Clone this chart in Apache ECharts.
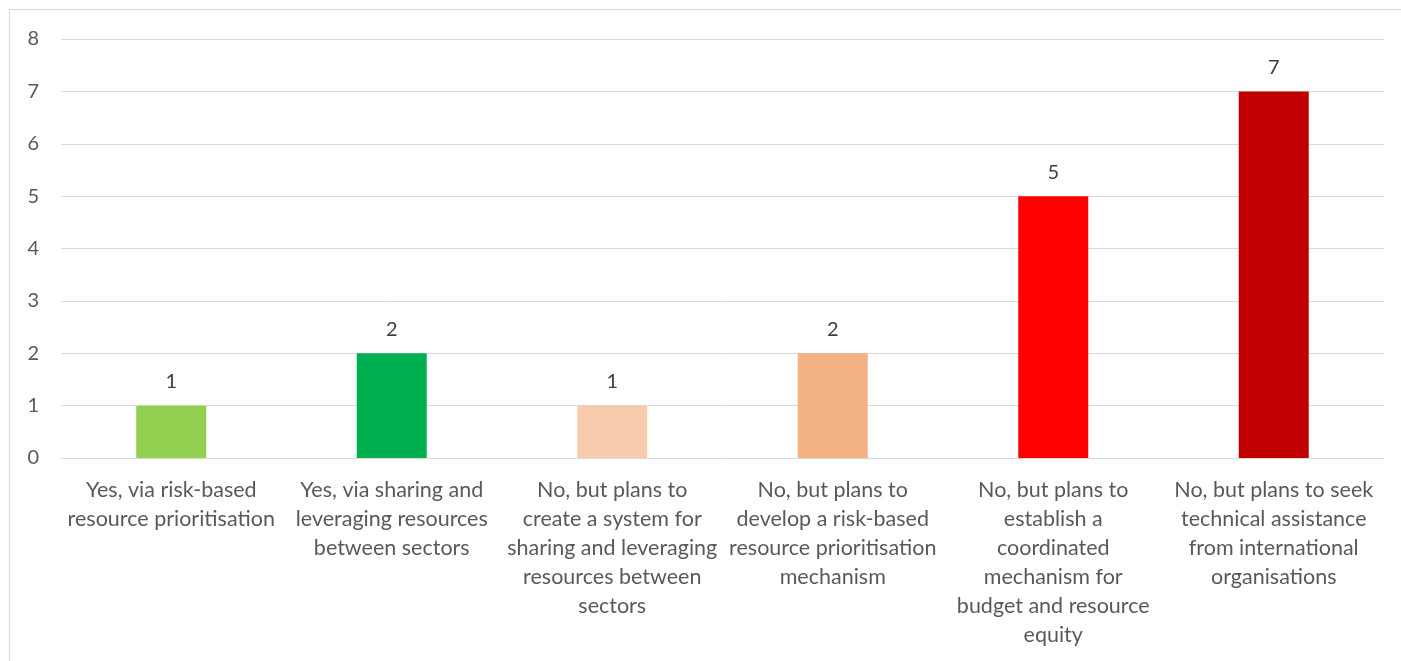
<!DOCTYPE html>
<html>
<head>
<meta charset="utf-8">
<script src="https://cdn.jsdelivr.net/npm/echarts@6/dist/echarts.min.js"></script>
<style>
    html, body { margin: 0; padding: 0; background: #fff; }
    #frame {
        position: absolute; left: 9px; top: 9px; width: 1500px; height: 800px;
        border: 1px solid #d9d9d9; pointer-events: none;
    }
    #chart { position: absolute; left: 0; top: 0; width: 1401px; height: 661px; }
</style>
</head>
<body>
<div id="chart"></div>
<div id="frame"></div>
<script>
const categories = [
    'Yes, via risk-based\nresource prioritisation',
    'Yes, via sharing and\nleveraging resources\nbetween sectors',
    'No, but plans to\ncreate a system for\nsharing and leveraging\nresources between\nsectors',
    'No, but plans to\ndevelop a risk-based\nresource prioritisation\nmechanism',
    'No, but plans to\nestablish a\ncoordinated\nmechanism for\nbudget and resource\nequity',
    'No, but plans to seek\ntechnical assistance\nfrom international\norganisations'
]
const values = [1, 2, 1, 2, 5, 7]
const colors = ['#92D050', '#00B050', '#F8CBAD', '#F4B183', '#FF0000', '#C00000']

const font = 'Lato, "Open Sans", sans-serif'
const chart = echarts.init(document.getElementById('chart'))
chart.setOption({
    animation: false,
    grid: {
        left: 61,
        right: 17,
        top: 39,
        bottom: 203
    },
    xAxis: {
        type: 'category',
        data: categories,
        axisLine: { show: true, lineStyle: { color: '#d9d9d9', width: 1 } },
        axisTick: { show: false },
        axisLabel: {
            interval: 0,
            margin: 18,
            color: '#595959',
            fontFamily: font,
            fontSize: 21.5,
            lineHeight: 29
        }
    },
    yAxis: {
        type: 'value',
        min: 0,
        max: 8,
        interval: 1,
        axisLine: { show: false },
        axisTick: { show: false },
        splitLine: { lineStyle: { color: '#d9d9d9', width: 1 } },
        axisLabel: {
            margin: 22,
            color: '#595959',
            fontFamily: font,
            fontSize: 20
        }
    },
    series: [{
        type: 'bar',
        barWidth: 70,
        data: values.map((v, i) => ({ value: v, itemStyle: { color: colors[i] } })),
        label: {
            show: true,
            position: 'top',
            distance: 14,
            color: '#404040',
            fontFamily: font,
            fontSize: 20
        }
    }]
})
</script>
</body>
</html>
